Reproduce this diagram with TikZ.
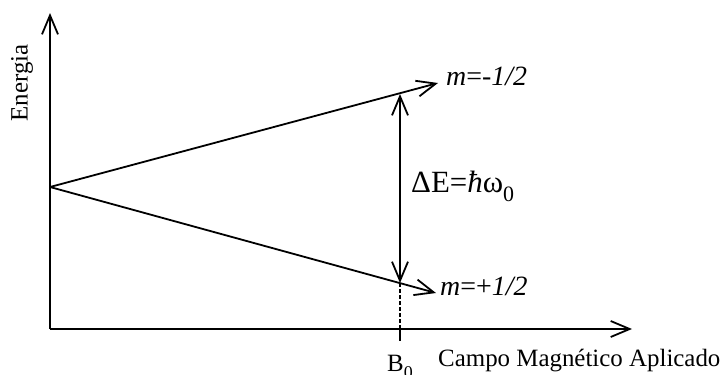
\documentclass[tikz,border=0pt]{standalone}
\usepackage{fontspec}
\setmainfont{Liberation Serif}
\usetikzlibrary{arrows.meta}

\begin{document}
\begin{tikzpicture}[x=1bp, y=-1bp, every node/.style={font=\fontsize{25}{30}\selectfont, inner sep=0pt},
		barb/.tip={Straight Barb[length=19bp, width=16bp, line width=1.8bp]},
		ln/.style={line width=1.8bp},
		arr/.style={ln, -barb},
		lvl/.style={anchor=base west, font=\fontsize{28}{32}\selectfont}]
			\useasboundingbox (0,0) rectangle (723,374);
			\coordinate (orig) at (50,329);
			\coordinate (etop) at (50,13);
			\coordinate (btip) at (632,329);
			\coordinate (split) at (50,187);
			\coordinate (up) at (438,83);
			\coordinate (low) at (436,293);
			\coordinate (dtop) at (400,94);
			\coordinate (dbot) at (400,283);
			\coordinate (bpos) at (400,329);
			\coordinate (tick) at (400,341);
			\draw[arr] (orig) -- (etop);
			\draw[arr] (orig) -- (btip);
			\draw[arr] (split) -- (up);
			\draw[arr] (split) -- (low);
			\draw[ln, barb-barb] (dtop) -- (dbot);
			\draw[line width=1.2bp, dash pattern=on 4bp off 2bp] (dbot) -- (bpos);
			\draw[ln] (bpos) -- (tick);
			\node[rotate=90] (energia) at (22,83) {Energia};
			\node[lvl] (mminus) at (446,85) {\textit{m}=\textit{-1/2}};
			\node[lvl] (mplus) at (440,295) {\textit{m}=+\textit{1/2}};
			\node[anchor=base west, font=\fontsize{31}{34}\selectfont] (deltae) at (411,192) {ΔE=\textit{ħ}ω\raisebox{-0.3em}{\fontsize{22}{22}\selectfont 0}};
			\node[anchor=base west] (bzero) at (387,371) {B\raisebox{-0.3em}{\fontsize{18}{18}\selectfont 0}};
			\node[anchor=base west] (campo) at (438,366) {Campo Magnético Aplicado};
		\end{tikzpicture}
\end{document}
